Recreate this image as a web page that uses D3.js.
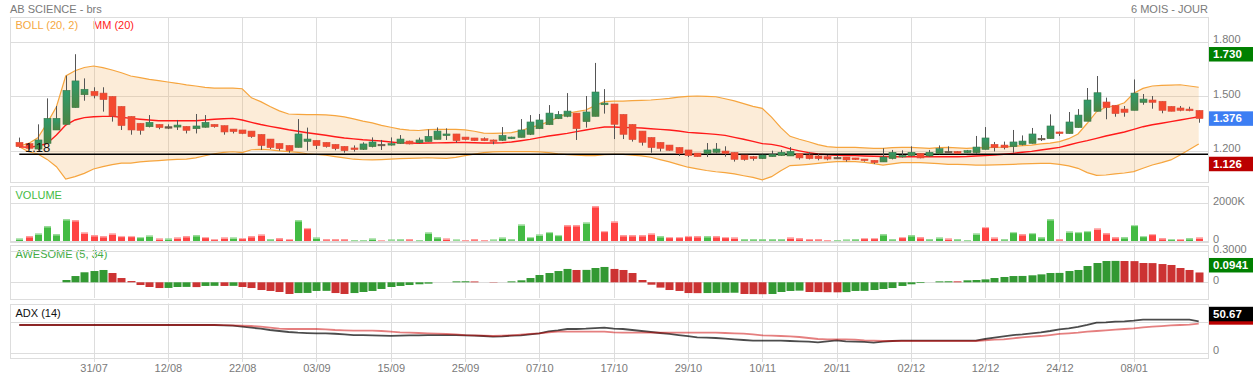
<!DOCTYPE html>
<html>
<head>
<meta charset="utf-8">
<script src="https://cdn.jsdelivr.net/npm/d3@7"></script>
<style>
body { margin: 0; background: #fff; }
svg { display: block; font-family: "Liberation Sans", Arial, sans-serif; }
</style>
</head>
<body>
<div id="canvas"></div>
<script>
"use strict"

// sessions: weekdays from 21/07/2014, exchange closed on these days
let firstDay = new Date(2014, 6, 21)
let closedDays = ["2014-12-25", "2014-12-26", "2015-01-01"]

let opens = [1.245, 1.238, 1.208, 1.239, 1.313, 1.344, 1.436, 1.507, 1.526, 1.516, 1.498, 1.443, 1.388, 1.350, 1.331, 1.344, 1.331, 1.329, 1.333, 1.320, 1.328, 1.344, 1.337, 1.318, 1.313, 1.307, 1.289, 1.263, 1.239, 1.228, 1.217, 1.250, 1.256, 1.245, 1.234, 1.223, 1.214, 1.206, 1.221, 1.234, 1.230, 1.239, 1.252, 1.243, 1.249, 1.261, 1.282, 1.291, 1.274, 1.269, 1.265, 1.258, 1.256, 1.265, 1.272, 1.289, 1.320, 1.342, 1.375, 1.388, 1.406, 1.359, 1.388, 1.452, 1.456, 1.399, 1.344, 1.307, 1.272, 1.245, 1.230, 1.217, 1.203, 1.186, 1.183, 1.190, 1.197, 1.190, 1.175, 1.166, 1.155, 1.166, 1.172, 1.170, 1.184, 1.175, 1.170, 1.166, 1.162, 1.164, 1.159, 1.153, 1.146, 1.137, 1.155, 1.172, 1.172, 1.184, 1.170, 1.183, 1.195, 1.195, 1.188, 1.188, 1.206, 1.234, 1.230, 1.221, 1.232, 1.239, 1.267, 1.265, 1.302, 1.293, 1.326, 1.361, 1.416, 1.467, 1.449, 1.428, 1.421, 1.465, 1.478, 1.471, 1.443, 1.434, 1.428, 1.421]
let highs = [1.271, 1.240, 1.344, 1.487, 1.445, 1.612, 1.730, 1.597, 1.548, 1.548, 1.498, 1.443, 1.388, 1.350, 1.395, 1.344, 1.344, 1.368, 1.333, 1.401, 1.395, 1.344, 1.337, 1.318, 1.313, 1.307, 1.289, 1.263, 1.239, 1.228, 1.373, 1.326, 1.256, 1.245, 1.234, 1.223, 1.228, 1.245, 1.272, 1.258, 1.272, 1.285, 1.254, 1.271, 1.316, 1.327, 1.322, 1.291, 1.274, 1.269, 1.272, 1.260, 1.329, 1.276, 1.373, 1.395, 1.401, 1.450, 1.417, 1.516, 1.406, 1.500, 1.682, 1.538, 1.456, 1.399, 1.344, 1.307, 1.272, 1.245, 1.230, 1.217, 1.203, 1.186, 1.241, 1.241, 1.223, 1.190, 1.175, 1.170, 1.177, 1.199, 1.203, 1.219, 1.184, 1.190, 1.181, 1.175, 1.173, 1.164, 1.159, 1.153, 1.146, 1.212, 1.203, 1.201, 1.223, 1.186, 1.203, 1.228, 1.223, 1.197, 1.203, 1.280, 1.329, 1.247, 1.249, 1.313, 1.283, 1.324, 1.285, 1.399, 1.304, 1.412, 1.428, 1.544, 1.610, 1.491, 1.449, 1.445, 1.591, 1.511, 1.500, 1.471, 1.443, 1.445, 1.441, 1.421]
let lows = [1.216, 1.205, 1.200, 1.239, 1.313, 1.344, 1.436, 1.474, 1.487, 1.414, 1.359, 1.313, 1.287, 1.287, 1.327, 1.317, 1.318, 1.313, 1.294, 1.294, 1.326, 1.326, 1.287, 1.294, 1.290, 1.270, 1.203, 1.208, 1.199, 1.188, 1.217, 1.199, 1.208, 1.216, 1.201, 1.188, 1.194, 1.203, 1.217, 1.203, 1.227, 1.236, 1.234, 1.239, 1.249, 1.261, 1.258, 1.243, 1.256, 1.252, 1.252, 1.234, 1.252, 1.263, 1.272, 1.285, 1.318, 1.340, 1.373, 1.383, 1.258, 1.326, 1.388, 1.403, 1.263, 1.263, 1.249, 1.227, 1.188, 1.195, 1.199, 1.170, 1.164, 1.166, 1.164, 1.184, 1.166, 1.139, 1.144, 1.144, 1.153, 1.166, 1.170, 1.170, 1.150, 1.151, 1.146, 1.146, 1.155, 1.139, 1.148, 1.139, 1.126, 1.137, 1.151, 1.161, 1.166, 1.157, 1.166, 1.179, 1.188, 1.181, 1.186, 1.181, 1.206, 1.195, 1.206, 1.188, 1.228, 1.238, 1.252, 1.265, 1.280, 1.293, 1.326, 1.361, 1.416, 1.372, 1.386, 1.386, 1.421, 1.452, 1.430, 1.405, 1.416, 1.416, 1.416, 1.353]
let closes = [1.221, 1.212, 1.258, 1.377, 1.377, 1.531, 1.583, 1.537, 1.502, 1.480, 1.390, 1.337, 1.313, 1.311, 1.355, 1.326, 1.331, 1.340, 1.311, 1.335, 1.355, 1.331, 1.302, 1.304, 1.293, 1.276, 1.227, 1.216, 1.210, 1.199, 1.291, 1.263, 1.227, 1.221, 1.210, 1.199, 1.205, 1.236, 1.247, 1.234, 1.238, 1.263, 1.236, 1.258, 1.278, 1.307, 1.291, 1.254, 1.260, 1.254, 1.254, 1.250, 1.283, 1.274, 1.313, 1.357, 1.368, 1.406, 1.399, 1.417, 1.320, 1.412, 1.522, 1.461, 1.344, 1.289, 1.260, 1.245, 1.216, 1.212, 1.201, 1.184, 1.172, 1.166, 1.203, 1.208, 1.184, 1.151, 1.150, 1.155, 1.175, 1.179, 1.190, 1.195, 1.159, 1.155, 1.155, 1.153, 1.162, 1.148, 1.150, 1.144, 1.133, 1.164, 1.190, 1.173, 1.190, 1.159, 1.190, 1.210, 1.195, 1.183, 1.199, 1.219, 1.269, 1.216, 1.216, 1.247, 1.252, 1.291, 1.267, 1.335, 1.293, 1.357, 1.395, 1.478, 1.518, 1.436, 1.403, 1.410, 1.516, 1.483, 1.465, 1.421, 1.416, 1.421, 1.419, 1.376]

// Bollinger (20, 2) and MM (20)
let bollUpper = [1.225, 1.239, 1.270, 1.351, 1.441, 1.610, 1.639, 1.657, 1.665, 1.656, 1.643, 1.628, 1.610, 1.601, 1.592, 1.585, 1.577, 1.570, 1.561, 1.555, 1.548, 1.543, 1.543, 1.543, 1.540, 1.490, 1.469, 1.442, 1.418, 1.401, 1.399, 1.398, 1.397, 1.396, 1.392, 1.385, 1.374, 1.362, 1.352, 1.338, 1.328, 1.318, 1.312, 1.310, 1.315, 1.316, 1.316, 1.316, 1.314, 1.306, 1.296, 1.294, 1.296, 1.298, 1.309, 1.326, 1.340, 1.359, 1.382, 1.405, 1.414, 1.423, 1.447, 1.469, 1.472, 1.472, 1.474, 1.476, 1.478, 1.482, 1.487, 1.494, 1.498, 1.500, 1.498, 1.496, 1.485, 1.473, 1.458, 1.443, 1.432, 1.384, 1.326, 1.278, 1.262, 1.248, 1.232, 1.221, 1.217, 1.217, 1.217, 1.214, 1.212, 1.212, 1.216, 1.217, 1.217, 1.214, 1.212, 1.216, 1.217, 1.214, 1.212, 1.214, 1.216, 1.217, 1.219, 1.223, 1.227, 1.230, 1.236, 1.241, 1.249, 1.265, 1.291, 1.350, 1.414, 1.438, 1.445, 1.463, 1.515, 1.542, 1.555, 1.558, 1.560, 1.562, 1.555, 1.548]
let bollLower = [1.221, 1.193, 1.181, 1.151, 1.111, 1.043, 1.056, 1.074, 1.098, 1.111, 1.122, 1.130, 1.131, 1.137, 1.141, 1.144, 1.148, 1.151, 1.153, 1.159, 1.171, 1.182, 1.190, 1.193, 1.188, 1.204, 1.206, 1.203, 1.198, 1.194, 1.190, 1.182, 1.178, 1.174, 1.166, 1.159, 1.152, 1.149, 1.148, 1.150, 1.153, 1.155, 1.157, 1.158, 1.160, 1.158, 1.157, 1.162, 1.172, 1.180, 1.188, 1.192, 1.194, 1.194, 1.194, 1.194, 1.192, 1.188, 1.181, 1.177, 1.174, 1.172, 1.172, 1.177, 1.179, 1.179, 1.174, 1.170, 1.163, 1.150, 1.137, 1.122, 1.108, 1.099, 1.090, 1.083, 1.078, 1.071, 1.061, 1.052, 1.038, 1.056, 1.089, 1.117, 1.120, 1.124, 1.129, 1.135, 1.139, 1.139, 1.139, 1.135, 1.128, 1.120, 1.126, 1.133, 1.133, 1.133, 1.131, 1.128, 1.124, 1.124, 1.122, 1.120, 1.120, 1.121, 1.122, 1.124, 1.126, 1.128, 1.129, 1.129, 1.124, 1.115, 1.102, 1.078, 1.063, 1.065, 1.071, 1.076, 1.084, 1.102, 1.120, 1.133, 1.148, 1.175, 1.206, 1.236]
let movingAvg = [1.221, 1.217, 1.225, 1.239, 1.285, 1.340, 1.368, 1.381, 1.386, 1.388, 1.388, 1.383, 1.377, 1.372, 1.368, 1.364, 1.364, 1.364, 1.364, 1.364, 1.368, 1.372, 1.375, 1.377, 1.368, 1.355, 1.343, 1.333, 1.324, 1.314, 1.306, 1.298, 1.291, 1.284, 1.276, 1.269, 1.264, 1.259, 1.256, 1.252, 1.247, 1.242, 1.241, 1.240, 1.241, 1.242, 1.243, 1.244, 1.244, 1.243, 1.241, 1.241, 1.243, 1.247, 1.254, 1.261, 1.271, 1.280, 1.287, 1.294, 1.304, 1.313, 1.322, 1.329, 1.329, 1.327, 1.326, 1.324, 1.320, 1.316, 1.313, 1.307, 1.300, 1.296, 1.293, 1.289, 1.283, 1.272, 1.262, 1.250, 1.238, 1.234, 1.224, 1.209, 1.198, 1.188, 1.181, 1.177, 1.173, 1.172, 1.172, 1.170, 1.168, 1.167, 1.166, 1.166, 1.166, 1.166, 1.166, 1.166, 1.166, 1.166, 1.167, 1.170, 1.172, 1.175, 1.179, 1.184, 1.190, 1.195, 1.203, 1.210, 1.217, 1.230, 1.243, 1.254, 1.267, 1.280, 1.291, 1.302, 1.316, 1.331, 1.342, 1.350, 1.359, 1.368, 1.377, 1.386]
let supportLevel = 1.18

// volume in thousands, with the colour flag shown on each bar (1 = green)
let volumes = [124, 248, 389, 779, 354, 1150, 1097, 443, 301, 248, 389, 266, 266, 212, 283, 124, 124, 177, 248, 301, 212, 106, 177, 177, 159, 248, 336, 88, 142, 106, 1097, 690, 177, 88, 88, 88, 35, 35, 124, 53, 71, 80, 88, 35, 443, 195, 124, 71, 35, 88, 35, 71, 177, 88, 867, 212, 336, 478, 319, 832, 832, 974, 1841, 531, 1027, 301, 301, 301, 389, 248, 212, 212, 266, 248, 248, 248, 212, 177, 88, 88, 88, 88, 88, 177, 142, 100, 88, 35, 35, 71, 88, 159, 159, 354, 88, 212, 301, 195, 88, 177, 124, 88, 35, 389, 743, 177, 88, 478, 354, 425, 195, 1150, 88, 496, 478, 531, 655, 407, 194, 194, 849, 265, 371, 141, 106, 106, 141, 177]
let volumeUp = [1, 0, 1, 1, 1, 1, 0, 0, 0, 0, 0, 0, 0, 1, 1, 0, 1, 0, 0, 1, 0, 0, 0, 1, 0, 0, 0, 1, 0, 0, 1, 0, 1, 0, 0, 0, 1, 1, 1, 0, 1, 1, 0, 1, 1, 1, 0, 1, 0, 0, 0, 1, 1, 1, 1, 1, 1, 1, 1, 0, 0, 1, 0, 0, 0, 0, 0, 0, 0, 1, 0, 0, 0, 0, 1, 0, 0, 0, 1, 1, 1, 1, 1, 0, 0, 0, 0, 0, 1, 1, 1, 0, 0, 1, 1, 0, 1, 0, 1, 1, 0, 1, 1, 1, 0, 0, 1, 1, 0, 1, 1, 1, 0, 1, 1, 1, 0, 0, 0, 1, 1, 1, 0, 0, 1, 0, 1, 0]

// Awesome oscillator (5, 34)
let awesome = [null, null, null, null, null, 0.022, 0.060, 0.096, 0.108, 0.118, 0.089, 0.041, 0.012, -0.026, -0.045, -0.055, -0.054, -0.045, -0.044, -0.046, -0.035, -0.034, -0.035, -0.034, -0.045, -0.055, -0.074, -0.083, -0.093, -0.112, -0.103, -0.102, -0.083, -0.082, -0.103, -0.112, -0.103, -0.093, -0.083, -0.064, -0.045, -0.035, -0.026, -0.019, -0.013, 0, 0, 0.009, 0.010, 0.008, 0, -0.003, 0, 0.009, 0.019, 0.041, 0.070, 0.089, 0.108, 0.128, 0.118, 0.119, 0.137, 0.147, 0.128, 0.118, 0.089, 0.022, -0.023, -0.051, -0.074, -0.083, -0.103, -0.104, -0.103, -0.102, -0.101, -0.100, -0.112, -0.113, -0.114, -0.112, -0.093, -0.083, -0.080, -0.093, -0.094, -0.095, -0.096, -0.094, -0.083, -0.082, -0.074, -0.064, -0.055, -0.035, -0.019, -0.007, 0, 0.009, 0.010, 0.009, 0.019, 0.022, 0.028, 0.041, 0.051, 0.060, 0.061, 0.067, 0.076, 0.089, 0.090, 0.108, 0.118, 0.156, 0.185, 0.204, 0.205, 0.204, 0.203, 0.185, 0.184, 0.175, 0.166, 0.137, 0.118, 0.0941]

// ADX (14): black line and red line
let adxLine = [44.7, 44.7, 44.7, 44.7, 44.7, 44.7, 44.7, 44.7, 44.7, 44.7, 44.7, 44.7, 44.7, 44.7, 44.7, 44.7, 44.7, 44.7, 44.7, 44.7, 44.7, 44.7, 44.2, 43.7, 42.0, 40.3, 38.7, 36.6, 35.0, 33.4, 32.3, 31.7, 31.2, 31.2, 30.6, 29.5, 28.4, 28.4, 27.9, 27.4, 27.2, 27.5, 28.0, 28.0, 28.5, 28.5, 28.5, 28.5, 28.0, 27.5, 26.9, 25.9, 26.4, 27.5, 28.0, 29.6, 31.2, 34.5, 36.1, 38.2, 38.2, 38.8, 39.8, 40.4, 38.8, 38.2, 36.6, 35.0, 33.4, 31.8, 30.2, 28.5, 26.9, 24.8, 24.2, 23.7, 22.6, 21.6, 20.5, 19.4, 19.4, 19.4, 19.4, 18.9, 18.3, 17.8, 16.7, 18.3, 19.9, 18.3, 17.8, 17.3, 16.2, 17.8, 18.9, 19.4, 19.4, 19.4, 19.4, 19.4, 19.4, 19.4, 19.4, 19.4, 22.1, 24.2, 26.4, 28.5, 29.6, 31.2, 32.8, 35.0, 37.7, 39.3, 41.5, 44.7, 48.4, 49.0, 50.1, 50.6, 51.7, 53.3, 53.3, 53.3, 53.3, 53.3, 53.3, 50.67]
let adxRed = [44.7, 44.7, 44.7, 44.7, 44.7, 44.7, 44.7, 44.7, 44.7, 44.7, 44.7, 44.7, 44.7, 44.7, 44.7, 44.7, 44.7, 44.7, 44.7, 44.7, 44.7, 44.7, 44.5, 44.2, 43.7, 43.1, 42.0, 40.3, 38.7, 38.2, 38.2, 38.2, 38.2, 37.6, 36.6, 36.0, 35.5, 35.5, 35.5, 35.0, 33.9, 32.8, 32.3, 31.8, 31.2, 30.7, 30.2, 29.6, 28.5, 28.0, 27.5, 26.9, 27.5, 28.0, 29.1, 30.2, 31.2, 32.8, 33.9, 33.9, 33.9, 33.9, 33.9, 33.9, 32.8, 32.3, 32.3, 32.3, 32.3, 32.3, 32.3, 32.3, 32.3, 32.3, 32.3, 32.3, 31.8, 31.2, 30.7, 29.6, 28.0, 27.5, 26.9, 26.4, 25.3, 23.7, 22.1, 21.6, 21.6, 21.6, 21.0, 19.9, 19.4, 18.9, 18.9, 18.9, 18.9, 18.9, 18.9, 18.9, 18.9, 18.9, 18.9, 18.9, 19.9, 21.0, 21.6, 23.2, 24.8, 25.9, 26.9, 28.5, 30.2, 31.2, 32.3, 33.9, 35.0, 36.1, 37.1, 38.2, 39.3, 40.9, 42.0, 43.0, 44.1, 44.7, 45.2, 46.8]

let priceTicks = [1.2, 1.5, 1.8]
let volumeTicks = [0, 2000]
let awesomeTicks = [0, 0.3]
let adxGridTicks = [0, 50]
let adxLabelTicks = [0]

let svgWidth = 1253
let svgHeight = 378
let left = 10
let right = 1208

let panels = {
    price: { top: 17, bottom: 182 },
    volume: { top: 186, bottom: 241.5 },
    awesome: { top: 244.5, bottom: 298 },
    adx: { top: 303.5, bottom: 357 }
}

let greenUp = "#008000"
let fontGray = "#7a7a7a"
let gridColor = "#dddddd"

let keyFormat = d3.timeFormat("%Y-%m-%d")
let tickFormat = d3.timeFormat("%d/%m")

let days = d3.timeDay.range(firstDay, new Date(2015, 2, 1))
    .filter(function (d) {
        return d.getDay() % 6 !== 0 && !closedDays.includes(keyFormat(d))
    })
    .slice(0, closes.length)
let keys = days.map(keyFormat)
let tickKeys = keys.filter(function (k, i) {
    return i > 0 && i % 8 === 0
})

let svg = d3.select("#canvas")
    .append("svg")
    .attr("width", svgWidth)
    .attr("height", svgHeight)

let xScale = d3.scalePoint().domain(keys).range([left, right]).padding(1)
let yPrice = d3.scaleLinear().domain([1.2, 1.8]).range([150.5, 41.5])
let yVolume = d3.scaleLinear().domain([0, 2000]).range([241, 203.3])
let yAwesome = d3.scaleLinear().domain([0, 0.3]).range([282.3, 251])
let yAdx = d3.scaleLinear().domain([0, 50]).range([352.7, 321.7])

function crisp(v) {
    return Math.round(v) + 0.5
}

let defs = svg.append("defs")
let greenGrad = defs.append("linearGradient")
    .attr("id", "greenBody")
    .attr("x1", 0).attr("y1", 0).attr("x2", 0).attr("y2", 1)
greenGrad.append("stop").attr("offset", "0%").attr("stop-color", "#2f9a6c")
greenGrad.append("stop").attr("offset", "100%").attr("stop-color", "#4c8643")

Object.keys(panels).forEach(function (name) {
    defs.append("clipPath")
        .attr("id", "clip-" + name)
        .append("rect")
        .attr("x", left)
        .attr("y", panels[name].top)
        .attr("width", right - left)
        .attr("height", panels[name].bottom - panels[name].top)
})

drawTitles()
drawGrid()
drawPricePanel()
drawVolumePanel()
drawAwesomePanel()
drawAdxPanel()
drawTimeAxis()

function drawTitles() {
    svg.append("text")
        .attr("x", 10)
        .attr("y", 12.5)
        .attr("font-size", 11)
        .attr("fill", fontGray)
        .text("AB SCIENCE - brs")

    svg.append("text")
        .attr("x", right)
        .attr("y", 12.5)
        .attr("font-size", 11)
        .attr("text-anchor", "end")
        .attr("fill", fontGray)
        .text("6 MOIS - JOUR")

    svg.append("text")
        .attr("x", 15.5)
        .attr("y", 29)
        .attr("font-size", 11)
        .attr("fill", "#f5a742")
        .text("BOLL (20, 2)")

    svg.append("text")
        .attr("x", 93)
        .attr("y", 29)
        .attr("font-size", 11)
        .attr("fill", "#ff2222")
        .text("MM (20)")

    let labels = [
        { text: "VOLUME", y: 199, color: "#44bb44" },
        { text: "AWESOME (5, 34)", y: 257.5, color: "#44aa44" },
        { text: "ADX (14)", y: 317, color: "#111" }
    ]
    svg.selectAll("text.panel-title")
        .data(labels)
        .join("text")
        .classed("panel-title", true)
        .attr("x", 15.5)
        .attr("y", function (d) { return d.y })
        .attr("font-size", 11)
        .attr("fill", function (d) { return d.color })
        .text(function (d) { return d.text })
}

function drawGrid() {
    let grid = svg.append("g")
        .attr("stroke", gridColor)
        .attr("fill", "none")

    Object.keys(panels).forEach(function (name) {
        let p = panels[name]
        grid.append("rect")
            .attr("x", left + 0.5)
            .attr("y", crisp(p.top))
            .attr("width", right - left)
            .attr("height", Math.round(p.bottom - p.top))

        grid.selectAll("line.v-" + name)
            .data(tickKeys)
            .join("line")
            .attr("class", "v-" + name)
            .attr("x1", function (k) { return crisp(xScale(k)) })
            .attr("x2", function (k) { return crisp(xScale(k)) })
            .attr("y1", p.top)
            .attr("y2", name === "adx" ? p.bottom + 5 : p.bottom)
    })

    let horizontal = [
        { scale: yPrice, ticks: priceTicks },
        { scale: yVolume, ticks: volumeTicks },
        { scale: yAwesome, ticks: awesomeTicks },
        { scale: yAdx, ticks: adxGridTicks }
    ]
    horizontal.forEach(function (h) {
        h.ticks.forEach(function (t) {
            grid.append("line")
                .attr("x1", left)
                .attr("x2", right)
                .attr("y1", crisp(h.scale(t)))
                .attr("y2", crisp(h.scale(t)))
        })
    })
}

function rightAxis(scale, ticks, format) {
    let axis = svg.append("g")
        .attr("transform", `translate(${right},0)`)
        .call(d3.axisRight(scale).tickValues(ticks).tickSize(0).tickPadding(5).tickFormat(format))
    axis.select(".domain").remove()
    axis.selectAll("text")
        .attr("font-size", 11)
        .attr("font-family", "Liberation Sans, Arial, sans-serif")
        .attr("fill", fontGray)
        .attr("dy", "0.1em")
    return axis
}

function valueBox(y, text, color) {
    svg.append("rect")
        .attr("x", 1209)
        .attr("y", y)
        .attr("width", 44)
        .attr("height", 14.5)
        .attr("fill", color)
    svg.append("text")
        .attr("x", 1213)
        .attr("y", y + 11)
        .attr("font-size", 11.5)
        .attr("font-weight", "bold")
        .attr("fill", "#fff")
        .text(text)
}

function drawPricePanel() {
    let plot = svg.append("g").attr("clip-path", "url(#clip-price)")

    let band = d3.area()
        .x(function (d, i) { return xScale(keys[i]) })
        .y0(function (d, i) { return yPrice(bollLower[i]) })
        .y1(function (d) { return yPrice(d) })

    plot.append("path")
        .datum(bollUpper)
        .attr("d", band)
        .attr("fill", "rgb(243,179,99)")
        .attr("fill-opacity", 0.25)

    let line = function (values, scale) {
        return d3.line()
            .x(function (d, i) { return xScale(keys[i]) })
            .y(function (d) { return scale(d) })(values)
    }

    plot.selectAll("path.boll")
        .data([bollUpper, bollLower])
        .join("path")
        .classed("boll", true)
        .attr("d", function (d) { return line(d, yPrice) })
        .attr("fill", "none")
        .attr("stroke", "#f6a53e")
        .attr("stroke-width", 1.2)

    plot.append("path")
        .attr("d", line(movingAvg, yPrice))
        .attr("fill", "none")
        .attr("stroke", "#ff1a1a")
        .attr("stroke-width", 1.4)

    plot.append("line")
        .attr("x1", xScale(keys[0]))
        .attr("x2", right)
        .attr("y1", yPrice(supportLevel))
        .attr("y2", yPrice(supportLevel))
        .attr("stroke", "#000")
        .attr("stroke-width", 1.5)

    svg.append("text")
        .attr("x", 25)
        .attr("y", 152)
        .attr("font-size", 13)
        .attr("fill", "#111")
        .text(d3.format(".2f")(supportLevel))

    let candles = plot.selectAll("g.candle")
        .data(keys)
        .join("g")
        .classed("candle", true)

    candles.append("line")
        .attr("x1", function (k) { return crisp(xScale(k)) })
        .attr("x2", function (k) { return crisp(xScale(k)) })
        .attr("y1", function (k, i) { return yPrice(highs[i]) })
        .attr("y2", function (k, i) { return yPrice(lows[i]) })
        .attr("stroke", "#555")
        .attr("stroke-width", 1)

    candles.append("rect")
        .attr("x", function (k) { return Math.round(xScale(k)) - 3 })
        .attr("width", 7)
        .attr("y", function (k, i) { return yPrice(Math.max(opens[i], closes[i])) })
        .attr("height", function (k, i) {
            return Math.max(1.5, Math.abs(yPrice(opens[i]) - yPrice(closes[i])))
        })
        .attr("fill", function (k, i) {
            if (closes[i] > opens[i]) return "url(#greenBody)"
            if (closes[i] < opens[i]) return "#f4492f"
            return "#6b5a4a"
        })
        .attr("stroke", function (k, i) {
            if (closes[i] > opens[i]) return "#3e7a4a"
            if (closes[i] < opens[i]) return "#d9503e"
            return "#6b5a4a"
        })
        .attr("stroke-width", 0.6)

    rightAxis(yPrice, priceTicks, d3.format(".3f"))

    let last = closes[closes.length - 1]
    let top = d3.max(highs)
    let bottom = d3.min(lows)
    valueBox(yPrice(top) - 7.2, d3.format(".3f")(top), greenUp)
    valueBox(yPrice(last) - 7.2, d3.format(".3f")(last), "#3c7ef3")
    valueBox(yPrice(bottom) - 7.2, d3.format(".3f")(bottom), "#bb0000")
}

function drawVolumePanel() {
    let plot = svg.append("g").attr("clip-path", "url(#clip-volume)")

    let bars = plot.selectAll("g.vol")
        .data(volumes)
        .join("g")
        .classed("vol", true)

    bars.append("rect")
        .attr("x", function (d, i) { return Math.round(xScale(keys[i])) - 3 })
        .attr("width", 7)
        .attr("y", function (d) { return yVolume(d) })
        .attr("height", function (d) { return yVolume(0) - yVolume(d) })
        .attr("fill", function (d, i) { return volumeUp[i] ? "#44bb44" : "#ff4444" })

    bars.append("rect")
        .attr("x", function (d, i) { return Math.round(xScale(keys[i])) - 3 })
        .attr("width", 7)
        .attr("y", function (d) { return yVolume(d) })
        .attr("height", 1.2)
        .attr("fill", function (d, i) { return volumeUp[i] ? "#a6e0a6" : "#ffaaaa" })

    rightAxis(yVolume, volumeTicks, function (d) {
        return d === 0 ? "0" : d + "K"
    })
}

function drawAwesomePanel() {
    let plot = svg.append("g").attr("clip-path", "url(#clip-awesome)")

    let values = awesome.map(function (v, i) {
        let prev = i > 0 ? awesome[i - 1] : null
        return { key: keys[i], value: v, up: prev === null || v >= prev }
    }).filter(function (d) { return d.value !== null })

    plot.selectAll("rect.ao")
        .data(values)
        .join("rect")
        .classed("ao", true)
        .attr("x", function (d) { return Math.round(xScale(d.key)) - 3.5 })
        .attr("width", 8)
        .attr("y", function (d) { return Math.min(yAwesome(d.value), yAwesome(0)) })
        .attr("height", function (d) { return Math.abs(yAwesome(d.value) - yAwesome(0)) })
        .attr("fill", function (d) { return d.up ? "#339933" : "#cc3333" })

    rightAxis(yAwesome, awesomeTicks, function (d) {
        return d === 0 ? "0" : d3.format(".4f")(d)
    })

    let last = awesome[awesome.length - 1]
    valueBox(yAwesome(last) - 14.5, d3.format(".4f")(last), greenUp)
}

function drawAdxPanel() {
    let plot = svg.append("g").attr("clip-path", "url(#clip-adx)")

    let line = d3.line()
        .x(function (d, i) { return xScale(keys[i]) })
        .y(function (d) { return yAdx(d) })

    plot.append("path")
        .attr("d", line(adxLine))
        .attr("fill", "none")
        .attr("stroke", "#000")
        .attr("stroke-opacity", 0.7)
        .attr("stroke-width", 1.8)

    plot.append("path")
        .attr("d", line(adxRed))
        .attr("fill", "none")
        .attr("stroke", "#cc0000")
        .attr("stroke-opacity", 0.5)
        .attr("stroke-width", 1.8)

    rightAxis(yAdx, adxLabelTicks, d3.format("d"))

    let lastRed = adxRed[adxRed.length - 1]
    let lastAdx = adxLine[adxLine.length - 1]
    svg.append("rect")
        .attr("x", 1209)
        .attr("y", yAdx(lastRed) + 1 - 14.5)
        .attr("width", 44)
        .attr("height", 14.5)
        .attr("fill", "#bb0000")
    valueBox(yAdx(lastAdx) - 14.5, d3.format(".2f")(lastAdx), "#000")
}

function drawTimeAxis() {
    let axis = svg.append("g")
        .attr("transform", `translate(0,${panels.adx.bottom})`)
        .call(d3.axisBottom(xScale)
            .tickValues(tickKeys)
            .tickSize(0)
            .tickPadding(7)
            .tickFormat(function (k) { return tickFormat(new Date(k + "T00:00:00")) }))
    axis.select(".domain").remove()
    axis.selectAll("text")
        .attr("font-size", 11)
        .attr("font-family", "Liberation Sans, Arial, sans-serif")
        .attr("fill", fontGray)
}
</script>
</body>
</html>
